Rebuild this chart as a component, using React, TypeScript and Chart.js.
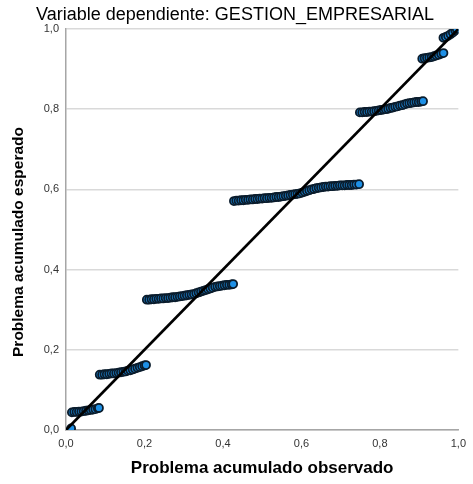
import React, { useEffect, useRef } from "react";
import { Chart, registerables } from "chart.js";

Chart.register(...registerables);

const TITLE = "Variable dependiente: GESTION_EMPRESARIAL";
const X_TITLE = "Problema acumulado observado";
const Y_TITLE = "Problema acumulado esperado";
const TICKS = [0, 0.2, 0.4, 0.6, 0.8, 1.0];

// Observed cumulative probability (x) per group of cases
const observed0 = [0.013];
const observed1 = [0.015, 0.021, 0.027, 0.033, 0.039, 0.045, 0.051, 0.057, 0.063, 0.069, 0.075, 0.081, 0.084];
const observed2 = [0.086, 0.092, 0.098, 0.104, 0.11, 0.116, 0.122, 0.128, 0.134, 0.14, 0.146, 0.152, 0.158, 0.164, 0.17, 0.176, 0.182, 0.188, 0.194, 0.2, 0.204];
const observed3 = [0.206, 0.212, 0.218, 0.224, 0.23, 0.236, 0.242, 0.248, 0.254, 0.26, 0.266, 0.272, 0.278, 0.284, 0.29, 0.296, 0.302, 0.308, 0.314, 0.32, 0.326, 0.332, 0.338, 0.344, 0.35, 0.356, 0.362, 0.368, 0.374, 0.38, 0.386, 0.392, 0.398, 0.404, 0.41, 0.416, 0.422, 0.426];
const observed4 = [0.428, 0.434, 0.44, 0.446, 0.452, 0.458, 0.464, 0.47, 0.476, 0.482, 0.488, 0.494, 0.5, 0.506, 0.512, 0.518, 0.524, 0.53, 0.536, 0.542, 0.548, 0.554, 0.56, 0.566, 0.572, 0.578, 0.584, 0.59, 0.596, 0.602, 0.608, 0.614, 0.62, 0.626, 0.632, 0.638, 0.644, 0.65, 0.656, 0.662, 0.668, 0.674, 0.68, 0.686, 0.692, 0.698, 0.704, 0.71, 0.716, 0.722, 0.728, 0.734, 0.74, 0.747];
const observed5 = [0.749, 0.755, 0.761, 0.767, 0.773, 0.779, 0.785, 0.791, 0.797, 0.803, 0.809, 0.815, 0.821, 0.827, 0.833, 0.839, 0.845, 0.851, 0.857, 0.863, 0.869, 0.875, 0.881, 0.887, 0.893, 0.899, 0.905, 0.91];
const observed6 = [0.908, 0.914, 0.92, 0.926, 0.932, 0.938, 0.944, 0.95, 0.956, 0.962];
const observed7 = [0.962, 0.968, 0.974, 0.98, 0.986, 0.992, 0.996];

// Expected cumulative probability (y) per group of cases
const expected0 = [0.004];
const expected1 = [0.044, 0.045, 0.045, 0.046, 0.046, 0.047, 0.048, 0.049, 0.05, 0.051, 0.052, 0.054, 0.055];
const expected2 = [0.138, 0.138, 0.139, 0.139, 0.14, 0.141, 0.141, 0.142, 0.143, 0.144, 0.145, 0.146, 0.148, 0.149, 0.151, 0.153, 0.155, 0.157, 0.159, 0.161, 0.162];
const expected3 = [0.325, 0.325, 0.326, 0.326, 0.327, 0.327, 0.328, 0.328, 0.329, 0.329, 0.33, 0.331, 0.331, 0.332, 0.333, 0.334, 0.335, 0.336, 0.337, 0.338, 0.339, 0.341, 0.343, 0.345, 0.347, 0.349, 0.351, 0.353, 0.355, 0.357, 0.358, 0.359, 0.36, 0.361, 0.362, 0.362, 0.363, 0.364];
const expected4 = [0.571, 0.572, 0.572, 0.573, 0.573, 0.574, 0.574, 0.575, 0.575, 0.576, 0.576, 0.577, 0.577, 0.578, 0.578, 0.579, 0.579, 0.58, 0.581, 0.581, 0.582, 0.583, 0.584, 0.585, 0.586, 0.587, 0.588, 0.589, 0.59, 0.592, 0.594, 0.596, 0.598, 0.6, 0.601, 0.603, 0.604, 0.605, 0.606, 0.607, 0.607, 0.608, 0.608, 0.609, 0.609, 0.61, 0.61, 0.61, 0.611, 0.611, 0.611, 0.612, 0.612, 0.613];
const expected5 = [0.792, 0.792, 0.793, 0.793, 0.794, 0.794, 0.795, 0.796, 0.797, 0.798, 0.799, 0.8, 0.801, 0.803, 0.804, 0.806, 0.807, 0.809, 0.81, 0.812, 0.814, 0.815, 0.816, 0.817, 0.818, 0.818, 0.819, 0.82];
const expected6 = [0.926, 0.927, 0.928, 0.929, 0.93, 0.932, 0.934, 0.936, 0.938, 0.94];
const expected7 = [0.978, 0.98, 0.983, 0.987, 0.991, 0.996, 1.0];

const observed = [...observed0, ...observed1, ...observed2, ...observed3, ...observed4, ...observed5, ...observed6, ...observed7];
const expected = [...expected0, ...expected1, ...expected2, ...expected3, ...expected4, ...expected5, ...expected6, ...expected7];

const refLineX = [0, 1];
const refLineY = [0, 1];

const FONT = "'Liberation Sans', Arial, sans-serif";

const titlesPlugin = {
  id: "customTitles",
  afterDraw(chart: any) {
    const { ctx, chartArea } = chart;
    ctx.save();
    ctx.fillStyle = "#000";
    ctx.textAlign = "center";
    ctx.textBaseline = "middle";
    ctx.font = `18px ${FONT}`;
    ctx.fillText(TITLE, 235, 15);
    ctx.font = `bold 17px ${FONT}`;
    ctx.fillText(X_TITLE, (chartArea.left + chartArea.right) / 2, 468);
    ctx.font = `bold 15.5px ${FONT}`;
    ctx.translate(19, 242);
    ctx.rotate(-Math.PI / 2);
    ctx.fillText(Y_TITLE, 0, 0);
    ctx.restore();
  },
};

export default function App() {
  const ref = useRef<HTMLCanvasElement | null>(null);
  useEffect(() => {
    if (!ref.current) return;
    const points = observed.map((x, i) => ({ x, y: expected[i] }));
    const line = refLineX.map((x, i) => ({ x, y: refLineY[i] }));
    const fmt = (v: number) => v.toFixed(1).replace(".", ",");
    const chart = new Chart(ref.current, {
      type: "scatter",
      data: {
        datasets: [
          {
            type: "line",
            data: line,
            borderColor: "#000",
            borderWidth: 2.7,
            pointRadius: 0,
            order: 0,
          } as any,
          {
            data: points,
            backgroundColor: "#1e90e6",
            borderColor: "#0a1c2c",
            borderWidth: 1.8,
            pointRadius: 4,
            order: 1,
          },
        ],
      },
      options: {
        animation: false,
        responsive: false,
        layout: { padding: { top: 29, right: 8, left: 0, bottom: 0 } },
        plugins: { legend: { display: false }, tooltip: { enabled: false }, title: { display: false } },
        scales: {
          x: {
            type: "linear",
            min: 0,
            max: 1,
            afterFit: (s: any) => { s.height = 54; },
            afterBuildTicks: (s: any) => { s.ticks = TICKS.map((v) => ({ value: v })); },
            grid: { display: false, drawTicks: false },
            border: { display: true, color: "#a6a6a6", width: 1.5 },
            ticks: { padding: 7, color: "#333", font: { family: FONT, size: 11 }, callback: (v: any) => fmt(Number(v)), maxRotation: 0 },
          },
          y: {
            type: "linear",
            min: 0,
            max: 1,
            afterFit: (s: any) => { s.width = 66; },
            afterBuildTicks: (s: any) => { s.ticks = TICKS.map((v) => ({ value: v })); },
            grid: { color: "#d9d9d9", lineWidth: 1.5, drawTicks: false },
            border: { display: true, color: "#a6a6a6", width: 1.5 },
            ticks: { padding: 7, color: "#333", font: { family: FONT, size: 11 }, callback: (v: any) => fmt(Number(v)) },
          },
        },
      },
      plugins: [titlesPlugin],
    });
    return () => chart.destroy();
  }, []);
  return (
    <div style={{ position: "fixed", left: 0, top: 0, width: 473, height: 484, background: "#fff" }}>
      <canvas ref={ref} width={473} height={484} style={{ width: 473, height: 484 }} />
    </div>
  );
}
